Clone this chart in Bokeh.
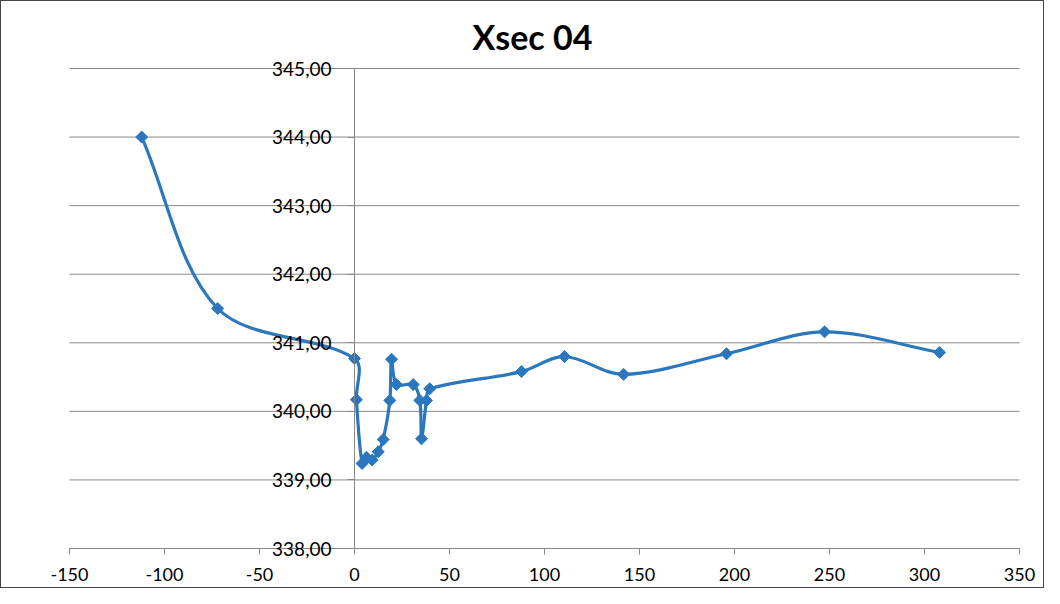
import math
from bokeh.plotting import figure
from bokeh.models import FixedTicker, CustomJSTickFormatter, Range1d, LinearAxis
from bokeh.core.properties import value
from bokeh.embed import file_html
from bokeh.resources import INLINE

# Data
station = [-112, -72, 0, 1, 4, 6.3, 9.3, 12.5, 15.1, 18.6, 19.5, 22.1, 30.9, 34.4,
           35.3, 37.9, 39.6, 87.9, 110.5, 141.6, 195.8, 247.4, 307.9]
elevation = [344.00, 341.50, 340.77, 340.17, 339.24, 339.33, 339.29, 339.41, 339.59,
             340.16, 340.76, 340.39, 340.39, 340.16, 339.60, 340.16, 340.33, 340.58,
             340.80, 340.54, 340.84, 341.16, 340.86]
x_ticks = [-150, -100, -50, 0, 50, 100, 150, 200, 250, 300, 350]
y_ticks = [338, 339, 340, 341, 342, 343, 344, 345]
title_text = "Xsec 04"

BLUE = "#2A77BE"
GRAY = "#888888"
FONT = "Lato"

# canvas and plot-area geometry (pixels)
W, H = 1044, 588
PL, PR, PT, PB = 68, 1018, 67, 547
X0, X1 = x_ticks[0], x_ticks[-1]
Y0, Y1 = y_ticks[0], y_ticks[-1]
sx = (PR - PL) / (X1 - X0)
sy = (PB - PT) / (Y1 - Y0)

# the frame covers the whole canvas so that the labels outside the plot area are not clipped
p = figure(width=W, height=H, output_backend="svg", toolbar_location=None,
           x_axis_location=None, y_axis_location=None,
           x_range=Range1d(X0 - PL / sx, X1 + (W - PR) / sx),
           y_range=Range1d(Y0 - (H - PB) / sy, Y1 + PT / sy),
           min_border=0)
p.grid.visible = False
p.outline_line_color = None
p.background_fill_color = "white"
p.border_fill_color = "white"
p.styles = {"border": "1px solid #444444"}

# horizontal gridlines across the plot area
p.segment(x0=[X0] * len(y_ticks), x1=[X1] * len(y_ticks), y0=y_ticks, y1=y_ticks,
          line_color=GRAY, line_width=1)

# Excel-like smoothed line, control points computed in pixel space
n = len(station)
P = [(station[i] * sx, elevation[i] * sy) for i in range(n)]

def dist(a, b):
    return math.hypot(b[0] - a[0], b[1] - a[1])

x0s, y0s, x1s, y1s, cx0s, cy0s, cx1s, cy1s = [], [], [], [], [], [], [], []
for i in range(n - 1):
    a, b = P[i], P[i + 1]
    pm = P[max(i - 1, 0)]
    pp = P[min(i + 2, n - 1)]
    d12 = dist(a, b)
    d01 = dist(pm, a)
    d23 = dist(b, pp)
    f0 = d12 / (d01 + d12) / 3.0
    f1 = d12 / (d12 + d23) / 3.0
    c0 = (a[0] + (b[0] - pm[0]) * f0, a[1] + (b[1] - pm[1]) * f0)
    c1 = (b[0] - (pp[0] - a[0]) * f1, b[1] - (pp[1] - a[1]) * f1)
    x0s.append(station[i]); y0s.append(elevation[i])
    x1s.append(station[i + 1]); y1s.append(elevation[i + 1])
    cx0s.append(c0[0] / sx); cy0s.append(c0[1] / sy)
    cx1s.append(c1[0] / sx); cy1s.append(c1[1] / sy)

p.bezier(x0=x0s, y0=y0s, x1=x1s, y1=y1s, cx0=cx0s, cy0=cy0s, cx1=cx1s, cy1=cy1s,
         line_color=BLUE, line_width=3.2)
p.scatter(station, elevation, marker="square", angle=math.pi / 4, size=8.5,
          fill_color=BLUE, line_color=BLUE)

# Title, centred on the chart
p.text(x=[X0 + (531 - PL) / sx], y=[Y1 + (PT - 35) / sy], text=[title_text],
       text_align="center", text_baseline="middle", text_font=value(FONT),
       text_font_size="34px", text_font_style="bold", text_color="black")

# x axis along the bottom of the plot area
xaxis = LinearAxis(fixed_location=Y0, bounds=(X0, X1))
xaxis.ticker = FixedTicker(ticks=x_ticks)
xaxis.formatter = CustomJSTickFormatter(code="return tick.toString();")
xaxis.axis_line_color = GRAY
xaxis.major_tick_line_color = GRAY
xaxis.major_tick_out = 6
xaxis.major_tick_in = 0
xaxis.minor_tick_line_color = None
xaxis.major_label_text_font = FONT
xaxis.major_label_text_font_size = "18px"
xaxis.major_label_text_color = "black"
xaxis.major_label_standoff = 13
p.add_layout(xaxis, "below")

# y axis crossing at x = 0
yaxis = LinearAxis(fixed_location=0, bounds=(Y0, Y1))
yaxis.ticker = FixedTicker(ticks=y_ticks)
yaxis.formatter = CustomJSTickFormatter(code="return tick.toFixed(2).replace('.', ',');")
yaxis.axis_line_color = GRAY
yaxis.major_tick_line_color = GRAY
yaxis.major_tick_out = 7
yaxis.major_tick_in = 0
yaxis.minor_tick_line_color = None
yaxis.major_label_text_font = FONT
yaxis.major_label_text_font_size = "19px"
yaxis.major_label_text_color = "black"
yaxis.major_label_standoff = 16
p.add_layout(yaxis, "left")

open("out.html", "w").write(file_html(p, INLINE))
